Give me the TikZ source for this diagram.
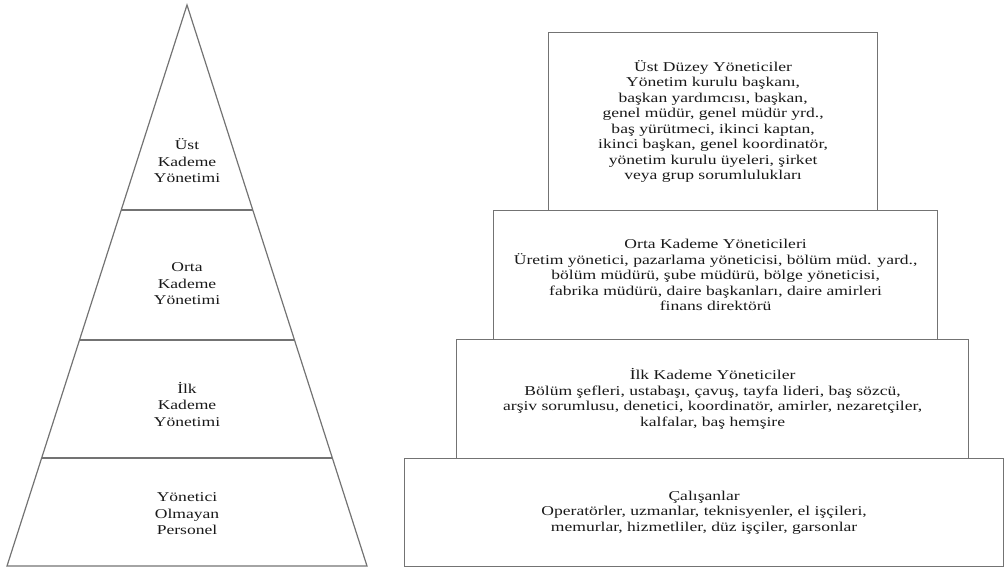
\documentclass[tikz,border=0pt]{standalone}
\usepackage{fontspec}
\setmainfont{Liberation Serif}[FakeStretch=1.3]
\usetikzlibrary{positioning, calc}

\begin{document}
\begin{tikzpicture}[
  x=1pt, y=-1pt,
  font=\fontsize{13.5pt}{15.5pt}\selectfont,
  text=black!90,
  rule/.style={draw=black!55, line width=1.2pt},
  tier/.style={
    rule,
    rectangle,
    anchor=north west,
    align=center,
    inner sep=0pt,
  },
  level/.style={
    align=center,
    font=\fontsize{13.5pt}{16.5pt}\selectfont,
  },
]
\useasboundingbox (0,0) rectangle (1006,569);

% --- Pyramid ---
\coordinate (Apex) at (187,5);
\coordinate (BaseL) at (7,566);
\coordinate (BaseR) at (367,566);
\draw[rule, line join=miter] (Apex) -- (BaseL) -- (BaseR) -- cycle;
% dividers at the same heights as the boxes on the right
\draw[rule] ($(Apex)!0.3654!(BaseL)$) -- ($(Apex)!0.3654!(BaseR)$);
\draw[rule] ($(Apex)!0.5971!(BaseL)$) -- ($(Apex)!0.5971!(BaseR)$);
\draw[rule] ($(Apex)!0.8075!(BaseL)$) -- ($(Apex)!0.8075!(BaseR)$);

\node[level] (UstKademe) at (187,161) {Üst\\Kademe\\Yönetimi};
\node[level] (OrtaKademe) at (187,284) {Orta\\Kademe\\Yönetimi};
\node[level] (IlkKademe) at (187,404) {İlk\\Kademe\\Yönetimi};
\node[level] (Personel) at (187,514) {Yönetici\\Olmayan\\Personel};

% --- Stacked boxes ---
\node[tier, minimum width=329pt, minimum height=178pt] (UstDuzey) at (548,32) {
  Üst Düzey Yöneticiler\\
  Yönetim kurulu başkanı,\\
  başkan yardımcısı, başkan,\\
  genel müdür, genel müdür yrd.,\\
  baş yürütmeci, ikinci kaptan,\\
  ikinci başkan, genel koordinatör,\\
  yönetim kurulu üyeleri, şirket\\
  veya grup sorumlulukları
};

\node[tier, minimum width=444pt, minimum height=129pt] (OrtaYon) at (493,210) {
  Orta Kademe Yöneticileri\\
  Üretim yönetici, pazarlama yöneticisi, bölüm müd. yard.,\\
  bölüm müdürü, şube müdürü, bölge yöneticisi,\\
  fabrika müdürü, daire başkanları, daire amirleri\\
  finans direktörü
};

\node[tier, minimum width=512pt, minimum height=119pt] (IlkYon) at (456,339) {
  İlk Kademe Yöneticiler\\
  Bölüm şefleri, ustabaşı, çavuş, tayfa lideri, baş sözcü,\\
  arşiv sorumlusu, denetici, koordinatör, amirler, nezaretçiler,\\
  kalfalar, baş hemşire
};

\node[tier, minimum width=599pt, minimum height=108pt] (Calisan) at (404,458) {
  Çalışanlar\\
  Operatörler, uzmanlar, teknisyenler, el işçileri,\\
  memurlar, hizmetliler, düz işçiler, garsonlar
};
\end{tikzpicture}
\end{document}
